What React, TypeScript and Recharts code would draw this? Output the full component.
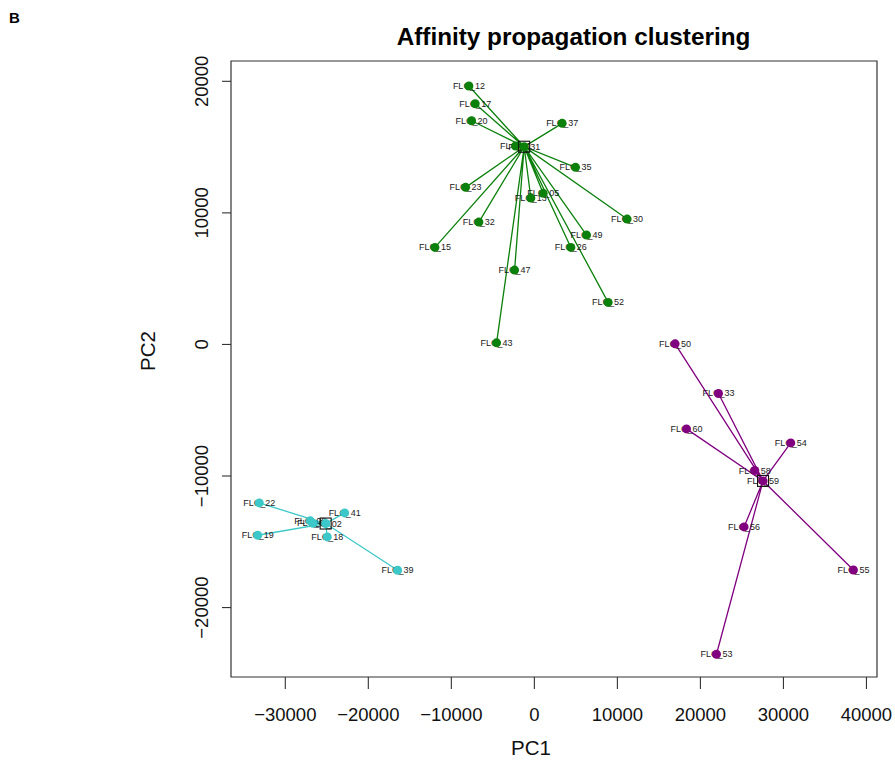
import React from 'react';
import { ScatterChart, Scatter, XAxis, YAxis, ReferenceArea } from 'recharts';

// ---- axis ticks / domains ----
const xTicks = [-30000, -20000, -10000, 0, 10000, 20000, 30000, 40000];
const yTicks = [-20000, -10000, 0, 10000, 20000];
const xDomain = [-36540, 41270];
const yDomain = [-25277, 21544];

// ---- green cluster (first entry = exemplar) ----
const greenLabels = ['FLC_31', 'FLC_12', 'FLC_17', 'FLC_20', 'FLC_37', 'FLC_35', 'FLC_23', 'FLC_05', 'FLC_13', 'FLC_30', 'FLC_32', 'FLC_49', 'FLC_15', 'FLC_26', 'FLC_47', 'FLC_52', 'FLC_43', 'FLC_11'];
const greenX = [-1228, -7886, -7127, -7561, 3347, 4960, -8283, 1060, -421, 11173, -6682, 6285, -11979, 4394, -2384, 8885, -4551, -2250];
const greenY = [15027, 19643, 18297, 17004, 16806, 13460, 11939, 11483, 11125, 9529, 9300, 8312, 7376, 7376, 5650, 3194, 122, 15080];

// ---- purple cluster (first entry = exemplar) ----
const purpleLabels = ['FLC_59', 'FLC_50', 'FLC_33', 'FLC_60', 'FLC_54', 'FLC_58', 'FLC_56', 'FLC_55', 'FLC_53'];
const purpleX = [27546, 16952, 22177, 18324, 30881, 26547, 25259, 38430, 21936];
const purpleY = [-10373, 46, -3726, -6418, -7483, -9582, -13870, -17141, -23551];

// ---- cyan cluster (first entry = exemplar) ----
const cyanLabels = ['FLC_02', 'FLC_22', 'FLC_41', 'FLC_19', 'FLC_18', 'FLC_39', 'FLC_08', 'FLC_04'];
const cyanX = [-25139, -33133, -22851, -33325, -24946, -16470, -26994, -26667];
const cyanY = [-13612, -12046, -12806, -14502, -14631, -17163, -13407, -13589];

const GREEN = '#0b800b';
const PURPLE = '#800080';
const CYAN = '#3cc8c8';
const FONT = '"Liberation Sans", Arial, sans-serif';

type P = { label: string; x: number; y: number };
const toPoints = (labels: string[], xs: number[], ys: number[]): P[] =>
  labels.map((l, i) => ({ label: l, x: xs[i], y: ys[i] }));
const toSpokes = (pts: P[]): P[] => {
  const out: P[] = [];
  pts.slice(1).forEach((p) => {
    out.push(pts[0], p);
  });
  return out;
};

const clusters = [
  { pts: toPoints(greenLabels, greenX, greenY), color: GREEN },
  { pts: toPoints(purpleLabels, purpleX, purpleY), color: PURPLE },
  { pts: toPoints(cyanLabels, cyanX, cyanY), color: CYAN },
];

const fmt = (v: number) => String(v).replace('-', '\u2212');

const XTick = (props: any) => {
  const { x, y, payload } = props;
  return (
    <text x={x} y={y + 32} textAnchor="middle" fontSize={18.5} fill="#111" fontFamily={FONT}>
      {fmt(payload.value)}
    </text>
  );
};

const YTick = (props: any) => {
  const { x, y, payload } = props;
  const cx = x - 20;
  return (
    <text
      x={cx}
      y={y}
      transform={`rotate(-90, ${cx}, ${y})`}
      textAnchor="middle"
      dominantBaseline="central"
      fontSize={18.5}
      fill="#111"
      fontFamily={FONT}
    >
      {fmt(payload.value)}
    </text>
  );
};

const Empty = () => <g />;

const LabelShape = (props: any) => (
  <text
    x={props.cx}
    y={props.cy}
    textAnchor="middle"
    dominantBaseline="central"
    fontSize={9}
    fill="#1a1a1a"
    fontFamily={FONT}
  >
    {props.payload.label}
  </text>
);

const makeDot = (color: string) => (props: any) => (
  <circle cx={props.cx} cy={props.cy} r={4.5} fill={color} />
);

const SquareShape = (props: any) => (
  <rect x={props.cx - 5.5} y={props.cy - 5.5} width={11} height={11} fill="none" stroke="#111" strokeWidth={1.1} />
);

export default function App() {
  return (
    <div style={{ position: 'absolute', left: 0, top: 0, width: 895, height: 762, background: '#fff' }}>
      <ScatterChart width={895} height={762} margin={{ top: 61, right: 18, bottom: 0, left: 0 }}>
        <XAxis
          type="number"
          dataKey="x"
          domain={xDomain}
          ticks={xTicks}
          allowDataOverflow
          axisLine={false}
          tickLine={{ stroke: '#333', strokeWidth: 1.1 }}
          tickSize={12}
          tickMargin={0}
          height={85}
          tick={<XTick />}
          interval={0}
        />
        <YAxis
          type="number"
          dataKey="y"
          domain={yDomain}
          ticks={yTicks}
          allowDataOverflow
          axisLine={false}
          tickLine={{ stroke: '#333', strokeWidth: 1.1 }}
          tickSize={9}
          tickMargin={0}
          width={231}
          tick={<YTick />}
          interval={0}
        />
        {clusters.map((c, i) => (
          <Scatter
            key={'spk' + i}
            data={toSpokes(c.pts)}
            line={{ stroke: c.color, strokeWidth: 1.3 }}
            lineType="joint"
            shape={<Empty />}
            isAnimationActive={false}
          />
        ))}
        {clusters.map((c, i) => (
          <Scatter key={'lbl' + i} data={c.pts} shape={<LabelShape />} isAnimationActive={false} />
        ))}
        {clusters.map((c, i) => (
          <Scatter key={'dot' + i} data={c.pts} shape={makeDot(c.color)} isAnimationActive={false} />
        ))}
        {clusters.map((c, i) => (
          <Scatter key={'ex' + i} data={[c.pts[0]]} shape={<SquareShape />} isAnimationActive={false} />
        ))}
        <ReferenceArea
          x1={xDomain[0]}
          x2={xDomain[1]}
          y1={yDomain[0]}
          y2={yDomain[1]}
          fill="none"
          fillOpacity={0}
          stroke="#333"
          strokeWidth={1.2}
        />
      </ScatterChart>
      <svg
        width={895}
        height={762}
        style={{ position: 'absolute', left: 0, top: 0, pointerEvents: 'none' }}
      >
        <text x={9} y={23} fontSize={15} fontWeight="bold" fontFamily={FONT} fill="#000">
          B
        </text>
        <text x={573.5} y={45} fontSize={24.3} fontWeight="bold" textAnchor="middle" fontFamily={FONT} fill="#000">
          Affinity propagation clustering
        </text>
        <text x={531} y={755} fontSize={20.5} textAnchor="middle" fontFamily={FONT} fill="#111">
          PC1
        </text>
        <text
          x={147.5}
          y={351}
          transform="rotate(-90, 147.5, 351)"
          fontSize={20.5}
          textAnchor="middle"
          dominantBaseline="central"
          fontFamily={FONT}
          fill="#111"
        >
          PC2
        </text>
      </svg>
    </div>
  );
}
